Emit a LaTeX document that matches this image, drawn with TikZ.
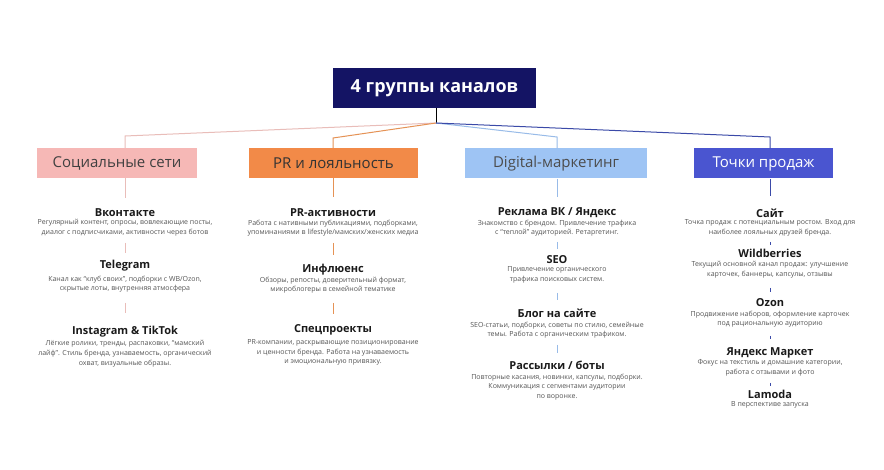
\documentclass[tikz,border=0pt]{standalone}
\usepackage{fontspec}
\setmainfont{Open Sans}
\definecolor{navy}{HTML}{141464}
\definecolor{cpink}{HTML}{F6B8B6}
\definecolor{corange}{HTML}{F28A48}
\definecolor{clblue}{HTML}{9EC4F4}
\definecolor{cblue}{HTML}{4A55D0}
\definecolor{lpink}{HTML}{E9BDB9}
\definecolor{lorange}{HTML}{E59255}
\definecolor{llblue}{HTML}{98BBE8}
\definecolor{lblue}{HTML}{3B4AA8}
\definecolor{desccol}{HTML}{555555}
\definecolor{headcol}{HTML}{1A1A1A}
\begin{document}
\begin{tikzpicture}[x=1pt,y=-1pt,
  topbox/.style={fill=navy,text=white,minimum width=203pt,minimum height=40pt,inner sep=0pt,font=\bfseries\fontsize{18}{20}\selectfont},
  grp/.style={minimum height=30pt,inner sep=0pt,font=\fontsize{15}{17}\selectfont},
  head/.style={inner sep=0pt,text=headcol,font=\bfseries\fontsize{11}{13}\selectfont},
  desc/.style={inner sep=0pt,anchor=north,align=center,text=desccol,font=\fontsize{7}{9.6}\selectfont},
  conn/.style={line width=1pt}]
\useasboundingbox (0,0) rectangle (884,470);
\fill[white] (0,0) rectangle (884,470);

% top
\node[topbox] (top) at (434.5,88) {4 группы каналов};
\coordinate (hub) at (436,123);
\draw[conn,black] (top.south -| hub) -- (hub);

% group boxes
\node[grp,fill=cpink,text=black!75,minimum width=160pt] (soc) at (117,163) {Социальные сети};
\node[grp,fill=corange,text=black!80,minimum width=169pt] (pr) at (333.5,163) {PR и лояльность};
\node[grp,fill=clblue,text=black!70,minimum width=182pt] (dig) at (556,163.5) {Digital-маркетинг};
\node[grp,fill=cblue,text=white,minimum width=139pt] (sal) at (763.5,163.5) {Точки продаж};

\coordinate (k1) at (125,136);
\coordinate (k2) at (333,138);
\coordinate (k3) at (557,137);
\coordinate (k4) at (770,137);
\draw[conn,lpink] (hub) -- (k1) -- (k1 |- soc.north);
\draw[conn,lorange] (hub) -- (k2) -- (k2 |- pr.north);
\draw[conn,llblue] (hub) -- (k3) -- (k3 |- dig.north);
\draw[conn,lblue] (hub) -- (k4) -- (k4 |- sal.north);

% column 1
\node[head] (s1) at (125,213) {Вконтакте};
\node[desc] (s1d) at (125,219.5) {Регулярный контент, опросы, вовлекающие посты,\\диалог с подписчиками, активности через ботов};
\node[head] (s2) at (125,266) {Telegram};
\node[desc] (s2d) at (125,275.5) {Канал как “клуб своих”, подборки с WB/Ozon,\\скрытые лоты, внутренняя атмосфера};
\node[head] (s3) at (125,332) {Instagram \& TikTok};
\node[desc] (s3d) at (125,340.5) {Лёгкие ролики, тренды, распаковки, “мамский\\лайф”. Стиль бренда, узнаваемость, органический\\охват, визуальные образы.};
\draw[conn,lpink] (125,178) coordinate (a0) -- (125,198) coordinate (a1);
\draw[conn,lpink] (125,243) coordinate (a2) -- (125,253) coordinate (a3);
\draw[conn,lpink] (125,303) coordinate (a4) -- (125,313) coordinate (a5);

% column 2
\node[head] (p1) at (333,213) {PR-активности};
\node[desc] (p1d) at (333,219.5) {Работа с нативными публикациями, подборками,\\упоминаниями в lifestyle/мамских/женских медиа};
\node[head] (p2) at (333,270) {Инфлюенс};
\node[desc] (p2d) at (333,276.5) {Обзоры, репосты, доверительный формат,\\микроблогеры в семейной тематике};
\node[head] (p3) at (333,330) {Спецпроекты};
\node[desc] (p3d) at (333,339.5) {PR-компании, раскрывающие позиционирование\\и ценности бренда. Работа на узнаваемость\\и эмоциональную привязку.};
\draw[conn,lorange] (333,178) coordinate (b0) -- (333,197) coordinate (b1);
\draw[conn,lorange] (333,243) coordinate (b2) -- (333,255) coordinate (b3);
\draw[conn,lorange] (333,303) coordinate (b4) -- (333,314) coordinate (b5);

% column 3
\node[head] (d1) at (557,213) {Реклама ВК / Яндекс};
\node[desc] (d1d) at (557,219.5) {Знакомство с брендом. Привлечение трафика\\с “теплой” аудиторией. Ретаргетинг.};
\node[head] (d2) at (557,260) {SEO};
\node[desc] (d2d) at (557,266.5) {Привлечение органического\\трафика поисковых систем.};
\node[head] (d3) at (557,313) {Блог на сайте};
\node[desc] (d3d) at (557,321.5) {SEO-статьи, подборки, советы по стилю, семейные\\темы. Работа с органическим трафиком.};
\node[head] (d4) at (557,365) {Рассылки / боты};
\node[desc] (d4d) at (557,373.5) {Повторные касания, новинки, капсулы, подборки.\\Коммуникация с сегментами аудитории\\по воронке.};
\draw[conn,llblue] (557,179) coordinate (c0) -- (557,197) coordinate (c1);
\draw[conn,llblue] (557,242) coordinate (c2) -- (557,249) coordinate (c3);
\draw[conn,llblue] (557,293) coordinate (c4) -- (557,300) coordinate (c5);
\draw[conn,llblue] (557,345) coordinate (c6) -- (557,353) coordinate (c7);

% column 4
\node[head] (t1) at (770,213) {Сайт};
\node[desc] (t1d) at (770,219.5) {Точка продаж с потенциальным ростом. Вход для\\наиболее лояльных друзей бренда.};
\node[head] (t2) at (770,253) {Wildberries};
\node[desc] (t2d) at (770,261.5) {Текущий основной канал продаж: улучшение\\карточек, баннеры, капсулы, отзывы};
\node[head] (t3) at (770,303) {Ozon};
\node[desc] (t3d) at (770,310.5) {Продвижение наборов, оформление карточек\\под рациональную аудиторию};
\node[head] (t4) at (770,353) {Яндекс Маркет};
\node[desc] (t4d) at (770,359.5) {Фокус на текстиль и домашние категории,\\работа с отзывами и фото};
\node[head] (t5) at (770,394) {Lamoda};
\node[desc] (t5d) at (770,401.5) {В перспективе запуска};
\draw[conn,lblue] (770,179) coordinate (e0) -- (770,196) coordinate (e1);
\draw[conn,lblue] (770,242) coordinate (e2) -- (770,245) coordinate (e3);
\draw[conn,lblue] (770,288) coordinate (e4) -- (770,292) coordinate (e5);
\draw[conn,lblue] (770,336) coordinate (e6) -- (770,339) coordinate (e7);
\draw[conn,lblue] (770,383) coordinate (e8) -- (770,386) coordinate (e9);
\end{tikzpicture}
\end{document}
